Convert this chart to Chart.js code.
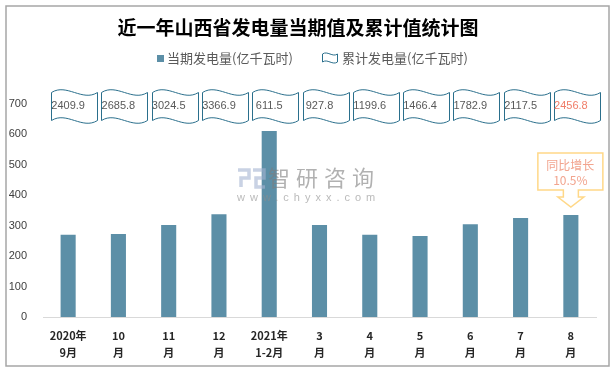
<!DOCTYPE html>
<html>
<head>
<meta charset="utf-8">
<script src="https://cdn.jsdelivr.net/npm/chart.js@4.4.1/dist/chart.umd.min.js"></script>
<style>
  html, body { margin: 0; padding: 0; background: #fff; }
  #wrap { width: 615px; height: 372px; }
</style>
</head>
<body>
<div id="wrap"><canvas id="powerChart" width="615" height="372"></canvas></div>
<script>
// data
const categories = [
    ['2020年', '9月'], ['10', '月'], ['11', '月'], ['12', '月'], ['2021年', '1-2月'],
    ['3', '月'], ['4', '月'], ['5', '月'], ['6', '月'], ['7', '月'], ['8', '月']
];
const monthlyValues = [270, 273, 302, 338, 611.5, 302, 270, 266, 305, 325, 335];
const cumulativeValues = ['2409.9', '2685.8', '3024.5', '3366.9', '611.5', '927.8', '1199.6', '1466.4', '1782.9', '2117.5', '2456.8'];
const yTicks = [0, 100, 200, 300, 400, 500, 600, 700];
const seriesNames = ['当期发电量(亿千瓦时)', '累计发电量(亿千瓦时)'];
const growthNote = ['同比增长', '10.5%'];
const chartTitle = '近一年山西省发电量当期值及累计值统计图';

const BAR_COLOR = '#5c8fa7';
const WAVE_COLOR = '#2a6f8c';
const CJK = '"Noto Sans CJK SC", "Noto Sans", sans-serif';

function wavePath(ctx, x, y, w, h, a) {
    ctx.beginPath();
    ctx.moveTo(x, y + a);
    ctx.bezierCurveTo(x + w * 0.33, y - a * 1.4, x + w * 0.67, y + a * 3.4, x + w, y + a);
    ctx.lineTo(x + w, y + h - a);
    ctx.bezierCurveTo(x + w * 0.67, y + h + a * 1.4, x + w * 0.33, y + h - a * 3.4, x, y + h - a);
    ctx.closePath();
}

const decor = {
    id: 'decor',
    afterDatasetsDraw(chart) {
        // watermark
        const ctx = chart.ctx;
        ctx.save();
        ctx.strokeStyle = 'rgba(165,180,210,0.6)';
        ctx.lineWidth = 3.5;
        ctx.beginPath();
        ctx.moveTo(238, 170); ctx.lineTo(249, 170); ctx.lineTo(249, 178); ctx.lineTo(241, 178); ctx.lineTo(241, 187);
        ctx.moveTo(253, 170); ctx.lineTo(264, 170); ctx.lineTo(264, 178); ctx.lineTo(256, 178); ctx.lineTo(256, 187); ctx.lineTo(265, 187);
        ctx.stroke();
        ctx.fillStyle = 'rgba(125,125,125,0.6)';
        ctx.font = '22px ' + CJK;
        ctx.textBaseline = 'middle';
        ctx.textAlign = 'left';
        ctx.letterSpacing = '6px';
        ctx.fillText('智研咨询', 268, 178);
        ctx.font = '11px "Liberation Sans", sans-serif';
        ctx.letterSpacing = '5px';
        ctx.fillStyle = 'rgba(140,140,140,0.6)';
        ctx.fillText('www.chyxx.com', 237, 198);
        ctx.restore();
    },
    afterDraw(chart) {
        const ctx = chart.ctx;
        const xs = chart.scales.x;
        const ys = chart.scales.y;
        ctx.save();

        // legend
        ctx.font = '13px ' + CJK;
        ctx.textBaseline = 'middle';
        ctx.textAlign = 'left';
        ctx.fillStyle = BAR_COLOR;
        ctx.fillRect(157, 55, 7, 7);
        ctx.fillStyle = '#595959';
        ctx.fillText(seriesNames[0], 167, 58);
        ctx.strokeStyle = WAVE_COLOR;
        ctx.lineWidth = 1;
        wavePath(ctx, 322.5, 52.5, 15, 11, 1.5);
        ctx.stroke();
        ctx.fillText(seriesNames[1], 342, 58);

        // cumulative value boxes
        const top = ys.getPixelForValue(yTicks[yTicks.length - 1]);
        ctx.font = '11px "Liberation Sans", sans-serif';
        ctx.textAlign = 'center';
        cumulativeValues.forEach((v, i) => {
            const cx = xs.getPixelForValue(i);
            ctx.fillStyle = '#fff';
            ctx.strokeStyle = WAVE_COLOR;
            ctx.lineWidth = 1;
            wavePath(ctx, Math.round(cx - 17) + 0.5, top - 15.5, 46, 36, 4);
            ctx.fill();
            ctx.stroke();
            ctx.fillStyle = i === cumulativeValues.length - 1 ? '#f07d68' : '#595959';
            ctx.fillText(v, cx, top + 2);
        });

        // growth callout above last bar
        const last = monthlyValues.length - 1;
        const cx = xs.getPixelForValue(last);
        const tip = ys.getPixelForValue(monthlyValues[last]) - 8;
        const bx0 = cx - 33, bx1 = cx + 32, by0 = tip - 54, by1 = tip - 17;
        ctx.beginPath();
        ctx.moveTo(bx0, by0);
        ctx.lineTo(bx1, by0);
        ctx.lineTo(bx1, by1);
        ctx.lineTo(cx + 7.5, by1);
        ctx.lineTo(cx + 7.5, by1 + 7);
        ctx.lineTo(cx + 13, by1 + 7);
        ctx.lineTo(cx, tip);
        ctx.lineTo(cx - 13, by1 + 7);
        ctx.lineTo(cx - 7.5, by1 + 7);
        ctx.lineTo(cx - 7.5, by1);
        ctx.lineTo(bx0, by1);
        ctx.closePath();
        ctx.fillStyle = '#fff';
        ctx.fill();
        ctx.strokeStyle = '#ffd888';
        ctx.lineWidth = 1.5;
        ctx.stroke();
        ctx.fillStyle = '#f2a48e';
        ctx.font = '12px ' + CJK;
        ctx.fillText(growthNote[0], (bx0 + bx1) / 2, by0 + 12);
        ctx.fillText(growthNote[1], (bx0 + bx1) / 2, by0 + 27);

        // outer frame
        ctx.strokeStyle = '#a6a6a6';
        ctx.lineWidth = 1.5;
        ctx.strokeRect(6, 6, 603, 360);
        ctx.restore();
    }
};

new Chart(document.getElementById('powerChart'), {
    type: 'bar',
    data: {
        labels: categories,
        datasets: [{
            label: seriesNames[0],
            data: monthlyValues,
            backgroundColor: BAR_COLOR,
            barPercentage: 0.3,
            categoryPercentage: 1
        }]
    },
    options: {
        responsive: false,
        animation: false,
        layout: { padding: { left: 0, right: 19, top: 0, bottom: 0 } },
        plugins: {
            legend: { display: false },
            tooltip: { enabled: false },
            title: {
                display: true,
                text: chartTitle,
                color: '#000',
                font: { family: CJK, size: 19, weight: 'bold' },
                padding: { top: 16, bottom: 65.2 }
            }
        },
        scales: {
            x: {
                grid: { display: false },
                border: { display: true, color: '#d9d9d9', width: 1 },
                ticks: {
                    color: '#262626',
                    font: { family: CJK, size: 11, weight: 'bold', lineHeight: 1.5 },
                    padding: 3,
                    maxRotation: 0,
                    autoSkip: false
                },
                afterFit(scale) { scale.height = 55; }
            },
            y: {
                min: yTicks[0],
                max: yTicks[yTicks.length - 1],
                grid: { display: false },
                border: { display: false },
                ticks: {
                    color: '#404040',
                    font: { family: '"Liberation Sans", sans-serif', size: 11 },
                    padding: 8
                },
                afterBuildTicks(scale) { scale.ticks = yTicks.map(v => ({ value: v })); },
                afterFit(scale) { scale.width = 43; }
            }
        }
    },
    plugins: [decor]
});
</script>
</body>
</html>
